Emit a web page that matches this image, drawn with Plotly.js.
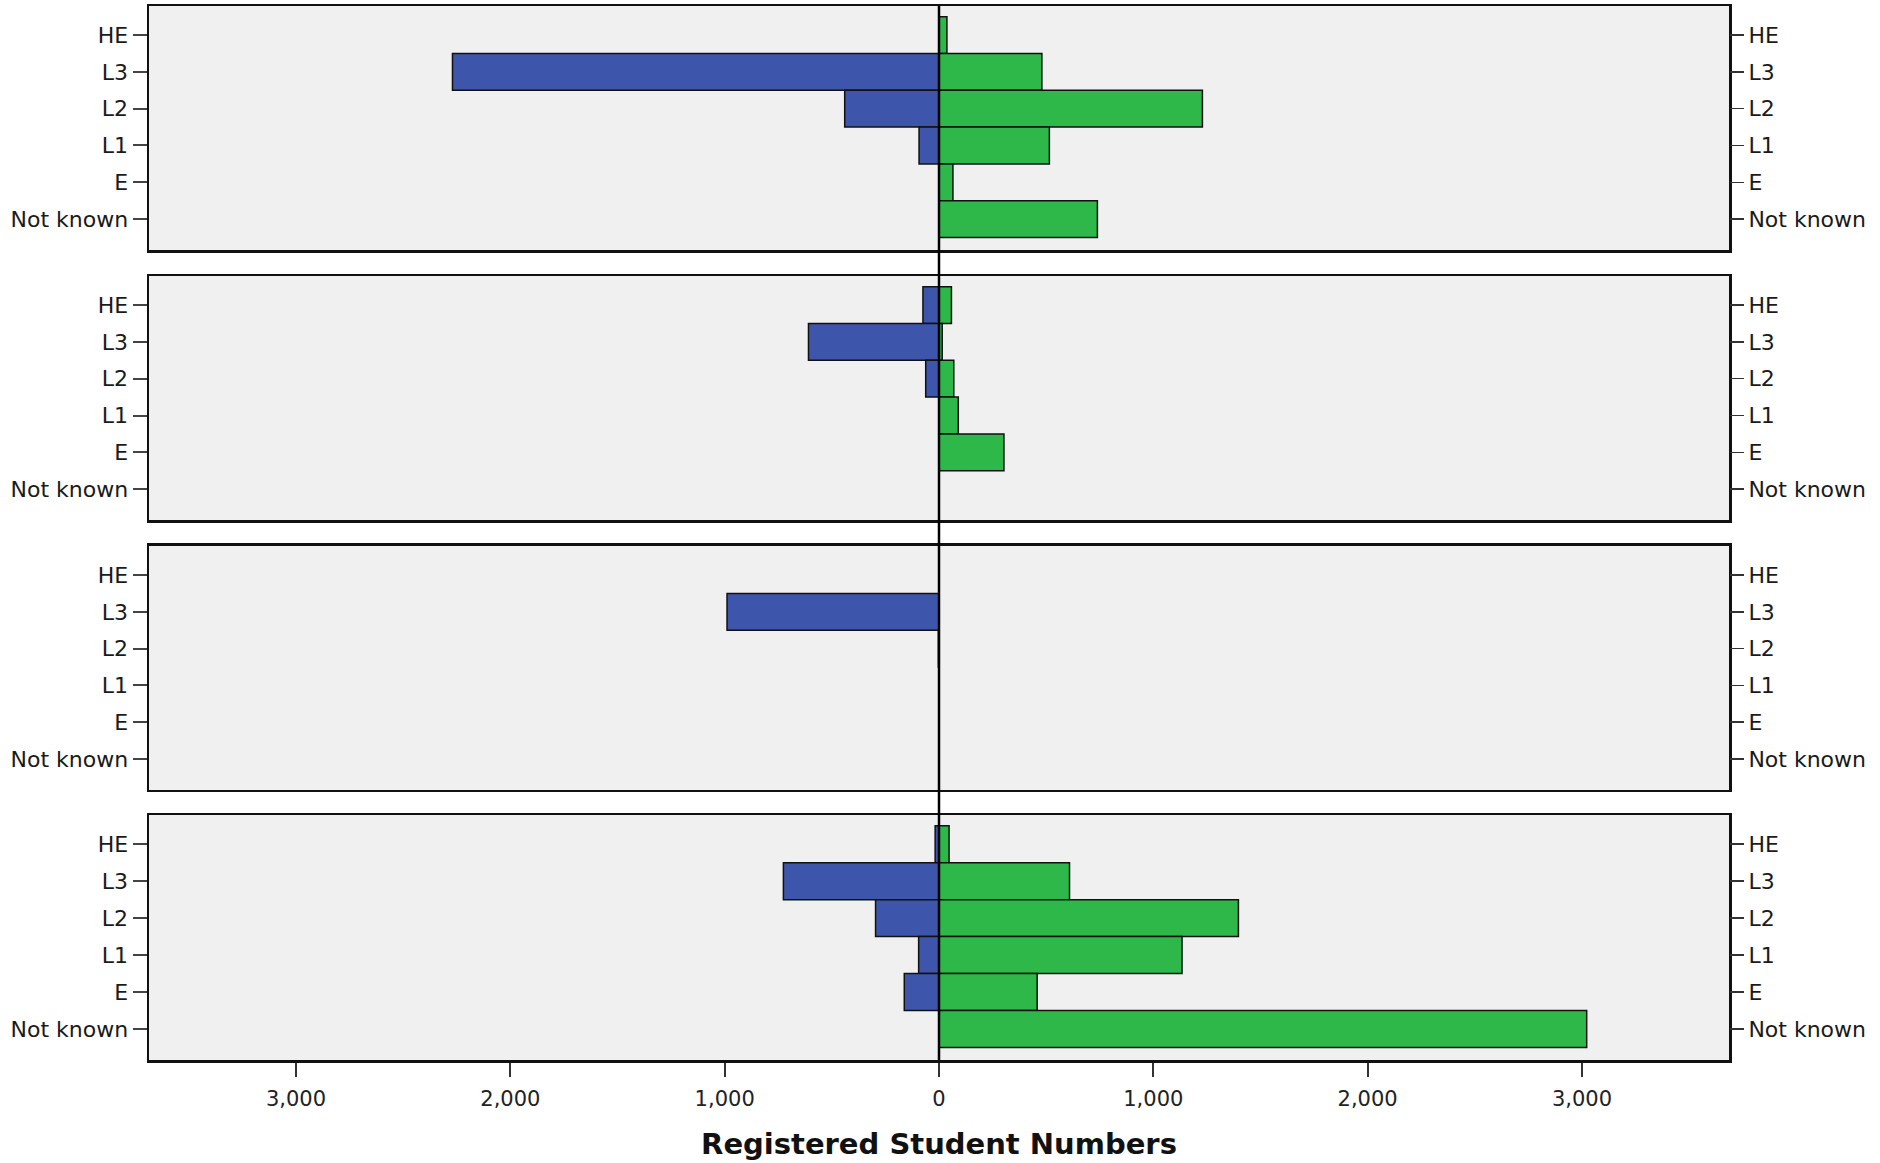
<!DOCTYPE html>
<html>
<head>
<meta charset="utf-8">
<script src="https://cdn.plot.ly/plotly-3.0.1.min.js"></script>
<style>html,body{margin:0;padding:0;background:#fff;}#chart{width:1880px;height:1163px;}</style>
</head>
<body>
<div id="chart"></div>
<script>
// Categories (top to bottom)
var categories = ['HE', 'L3', 'L2', 'L1', 'E', 'Not known'];

// Blue series (left side, drawn as negative) per panel; null = no bar
var bluePanel1 = [null, 2270, 440, 93, null, null];
var bluePanel2 = [75, 609, 62, null, null, null];
var bluePanel3 = [null, 989, 3, null, null, null];
var bluePanel4 = [18, 726, 296, 95, 162, null];

// Green series (right side) per panel
var greenPanel1 = [37, 480, 1229, 515, 65, 739];
var greenPanel2 = [58, 15, 69, 90, 303, null];
var greenPanel3 = [null, null, null, null, null, null];
var greenPanel4 = [47, 609, 1397, 1134, 458, 3022];

// X-axis ticks
var xTickVals = [-3000, -2000, -1000, 0, 1000, 2000, 3000];
var xTickText = ['3,000', '2,000', '1,000', '0', '1,000', '2,000', '3,000'];
var xTitle = 'Registered Student Numbers';

var bluePanels = [bluePanel1, bluePanel2, bluePanel3, bluePanel4];
var greenPanels = [greenPanel1, greenPanel2, greenPanel3, greenPanel4];

var BLUE = '#3D56AB';
var GREEN = '#2EB84A';
var FONT = 'DejaVu Sans, Verdana, sans-serif';
var X_RANGE = [-3686, 3686];

var data = [];
var layout = {
  width: 1880, height: 1163,
  margin: {l: 149, r: 151, t: 6, b: 103},
  paper_bgcolor: '#ffffff',
  plot_bgcolor: '#F0F0F0',
  barmode: 'relative',
  bargap: 0,
  showlegend: false,
  font: {family: FONT, size: 22, color: '#1a1a1a'},
  shapes: [{
    type: 'line', xref: 'x4', yref: 'paper', x0: 0, x1: 0, y0: 0, y1: 1,
    line: {color: '#000', width: 2.5}, layer: 'above'
  }]
};

var domains = [[0.7685, 1], [0.5123, 0.7438], [0.2562, 0.4877], [0, 0.2324]];
var yRange = [5.84, -0.79];

for (var p = 0; p < 4; p++) {
  var sfx = p === 0 ? '' : String(p + 1);
  var xName = 'x' + sfx;
  var xKey = 'xaxis' + sfx;
  var yName = 'y' + sfx;
  var yKey = 'yaxis' + sfx;
  var rName = 'y' + (p + 5);
  var rKey = 'yaxis' + (p + 5);
  var isBottom = (p === 3);

  data.push({
    type: 'bar', orientation: 'h', xaxis: xName, yaxis: yName,
    y: categories,
    x: bluePanels[p].map(function (v) { return v === null ? null : -v; }),
    marker: {color: BLUE, line: {color: '#111', width: 1.5}},
    hoverinfo: 'skip'
  });
  data.push({
    type: 'bar', orientation: 'h', xaxis: xName, yaxis: yName,
    y: categories,
    x: greenPanels[p],
    marker: {color: GREEN, line: {color: '#111', width: 1.5}},
    hoverinfo: 'skip'
  });
  data.push({
    type: 'scatter', mode: 'markers', xaxis: xName, yaxis: rName,
    y: categories, x: categories.map(function () { return 0; }),
    marker: {opacity: 0, size: 1}, hoverinfo: 'skip', showlegend: false
  });

  var xa = {
    anchor: yName,
    range: X_RANGE, autorange: false,
    showline: true, mirror: true, linecolor: '#111', linewidth: 2.5,
    showgrid: false, zeroline: false, fixedrange: true
  };
  if (isBottom) {
    xa.tickmode = 'array';
    xa.tickvals = xTickVals;
    xa.ticktext = xTickText;
    xa.ticks = 'outside';
    xa.ticklen = 14;
    xa.tickwidth = 2;
    xa.tickcolor = '#333';
    xa.ticklabelstandoff = 4;
    xa.tickfont = {family: FONT, size: 21, color: '#222'};
    xa.title = {text: xTitle, font: {family: FONT, size: 29, color: '#111', weight: 'bold'}, standoff: 24};
  } else {
    xa.showticklabels = false;
    xa.ticks = '';
    xa.matches = 'x4';
  }
  layout[xKey] = xa;

  layout[yKey] = {
    domain: domains[p], anchor: xName,
    type: 'category', categoryorder: 'array', categoryarray: categories,
    range: yRange, autorange: false,
    ticks: 'outside', ticklen: 14, tickwidth: 2, tickcolor: '#444',
    tickfont: {family: FONT, size: 22, color: '#1a1a1a'},
    showline: true, mirror: true, linecolor: '#111', linewidth: 2.5,
    showgrid: false, zeroline: false, fixedrange: true
  };
  layout[rKey] = {
    overlaying: yName, side: 'right', anchor: xName,
    type: 'category', categoryorder: 'array', categoryarray: categories,
    range: yRange, autorange: false,
    ticks: 'outside', ticklen: 14, tickwidth: 1.5, tickcolor: '#333',
    tickfont: {family: FONT, size: 22, color: '#1a1a1a'},
    showline: false, showgrid: false, zeroline: false, fixedrange: true
  };
}

Plotly.newPlot('chart', data, layout, {displayModeBar: false, staticPlot: true});
</script>
</body>
</html>
